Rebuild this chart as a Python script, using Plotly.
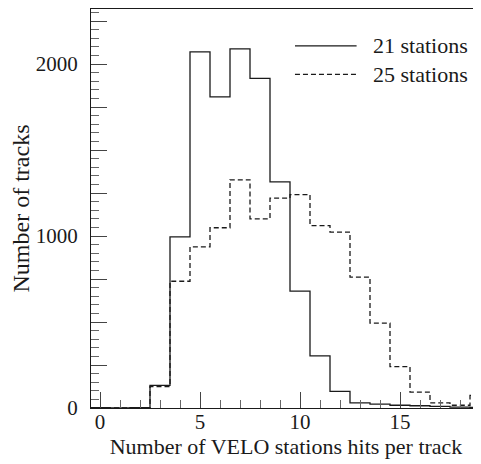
import numpy as np
import plotly.graph_objects as go

# Bin centres: number of VELO station hits per track
hits = list(range(0, 20))
# Number of tracks per bin
tracks_21 = [2, 1, 2, 131, 995, 2071, 1809, 2088, 1917, 1315, 679, 303, 97, 30, 22, 16, 13, 9, 5, 4]
tracks_25 = [0, 0, 0, 125, 737, 937, 1048, 1327, 1100, 1220, 1241, 1061, 1023, 761, 493, 240, 92, 30, 16, 73]

series_names = ["21 stations", "25 stations"]
x_title = "Number of VELO stations hits per track"
y_title = "Number of tracks"

FONT = "Liberation Serif"
INK = "#1a1a1a"


def step_xy(centers, values):
    c = np.asarray(centers, dtype=float)
    edges = np.concatenate([c - 0.5, [c[-1] + 0.5]])
    v = list(values) + [values[-1]]
    return edges, v


fig = go.Figure()
for vals, name, dash in [(tracks_21, series_names[0], "solid"), (tracks_25, series_names[1], "5px,3px")]:
    xs, ys = step_xy(hits, vals)
    fig.add_trace(go.Scatter(
        x=xs, y=ys, mode="lines", name=name, line_shape="hv",
        line=dict(color=INK, width=1.3, dash=dash), showlegend=False,
        hovertemplate="%{x}: %{y}<extra>" + name + "</extra>",
    ))

# Legend drawn as line samples + text labels in the upper right
legend_rows = [(series_names[0], "solid", 0.9075), (series_names[1], "dash", 0.836)]
for name, dash, yy in legend_rows:
    fig.add_shape(type="line", xref="paper", yref="paper",
                  x0=0.523, x1=0.681, y0=yy, y1=yy,
                  line=dict(color=INK, width=1.2, dash="5px,3px" if dash == "dash" else "solid"))
    fig.add_annotation(xref="paper", yref="paper", x=0.718, y=yy, text=name,
                       showarrow=False, xanchor="left", yanchor="middle",
                       font=dict(family=FONT, size=22, color=INK))

ytickvals = list(range(0, 2501, 250))
yticktext = [str(v) if v % 1000 == 0 else "" for v in ytickvals]

# The page body keeps an 8px margin, so the figure is sized to fill the rest of the window
fig.update_layout(
    width=473, height=456,
    margin=dict(l=83, r=0, t=1, b=56),
    paper_bgcolor="white", plot_bgcolor="white",
    font=dict(family=FONT, size=21, color=INK),
    xaxis=dict(
        range=[-0.45, 19.05], showgrid=False, zeroline=False, automargin=False,
        showline=True, linecolor=INK, linewidth=1.3, mirror=True,
        ticks="inside", ticklen=16, tickwidth=1.2, tickcolor="#444",
        tickvals=[0, 5, 10, 15], ticktext=["0", "5", "10", "15"],
        minor=dict(ticks="inside", ticklen=8, tickwidth=1, tickcolor="#666", dtick=1, tick0=0, showgrid=False),
        title=dict(text=x_title, font=dict(family=FONT, size=22, color=INK), standoff=5),
        tickfont=dict(family=FONT, size=21, color=INK),
        ticklabelstandoff=-5,
    ),
    yaxis=dict(
        range=[0, 2320], showgrid=False, zeroline=False, automargin=False,
        showline=True, linecolor=INK, linewidth=1.3, mirror=False,
        ticks="inside", ticklen=16, tickwidth=1.2, tickcolor="#444",
        tickvals=ytickvals, ticktext=yticktext,
        minor=dict(ticks="inside", ticklen=8, tickwidth=1, tickcolor="#666", dtick=50, tick0=0, showgrid=False),
        title=dict(text=y_title, font=dict(family=FONT, size=24, color=INK), standoff=9),
        tickfont=dict(family=FONT, size=21, color=INK),
        ticklabelstandoff=8,
    ),
)

fig.write_html("out.html")
